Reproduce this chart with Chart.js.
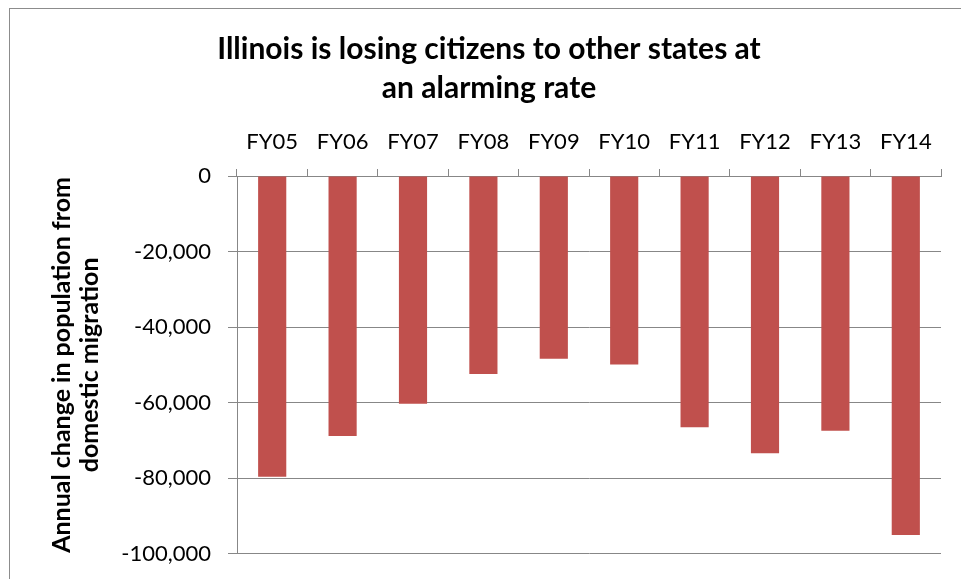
<!DOCTYPE html>
<html>
<head>
<meta charset="utf-8">
<script src="https://cdn.jsdelivr.net/npm/chart.js@4"></script>
<style>
  html, body { margin: 0; padding: 0; background: #fff; overflow: hidden; }
  #wrap { width: 980px; height: 584px; }
</style>
</head>
<body>
<div id="wrap"><canvas id="chart"></canvas></div>
<script>
// values
const years = ['FY05', 'FY06', 'FY07', 'FY08', 'FY09', 'FY10', 'FY11', 'FY12', 'FY13', 'FY14'];
const migration = [-79600, -68800, -60300, -52400, -48400, -49900, -66500, -73400, -67400, -95000];
const titleLines = ['Illinois is losing citizens to other states at', 'an alarming rate'];
const yTitleLines = ['Annual change in population from', 'domestic migration'];
const yMin = -100000;
const yMax = 0;
const yStep = 20000;

const gridGray = '#878787';
const barRed = '#C0504D';

// outer chart frame (only its left and top edges fall inside the window)
const chartFrame = {
  id: 'chartFrame',
  beforeDraw(chart) {
    const ctx = chart.ctx;
    ctx.save();
    ctx.fillStyle = '#fff';
    ctx.fillRect(0, 0, chart.width, chart.height);
    ctx.strokeStyle = '#8c8c8c';
    ctx.lineWidth = 1;
    ctx.strokeRect(9.5, 8.5, 959, 620);
    ctx.restore();
  },
};

new Chart(document.getElementById('chart'), {
  type: 'bar',
  data: {
    labels: years,
    datasets: [{
      data: migration,
      backgroundColor: barRed,
      borderWidth: 0,
      barPercentage: 0.4,
      categoryPercentage: 1.0,
    }],
  },
  options: {
    responsive: true,
    maintainAspectRatio: false,
    animation: false,
    layout: { padding: { left: 10, top: 8, right: 12, bottom: 16 } },
    plugins: {
      legend: { display: false },
      tooltip: { enabled: false },
      title: {
        display: true,
        text: titleLines,
        color: '#000',
        font: { family: 'Lato', size: 30, weight: 'bold', lineHeight: 1.3 },
        padding: { top: 22, bottom: 0 },
      },
    },
    scales: {
      x: {
        position: 'top',
        afterFit(scale) { scale.height = 68; },
        grid: { drawOnChartArea: false, drawTicks: true, tickLength: 7, color: gridGray, offset: true },
        border: { display: true, color: gridGray, width: 1 },
        ticks: { color: '#000', padding: 14, font: { family: 'Lato', size: 22 } },
      },
      y: {
        min: yMin,
        max: yMax,
        afterFit(scale) { scale.width = 227; },
        ticks: {
          stepSize: yStep,
          color: '#000',
          padding: 17,
          font: { family: 'Lato', size: 22 },
          callback: (v) => Number(v).toLocaleString('en-US'),
        },
        grid: { color: gridGray, tickLength: 9, drawTicks: true },
        border: { display: true, color: gridGray, width: 1 },
        title: {
          display: true,
          text: yTitleLines,
          color: '#000',
          font: { family: 'Lato', size: 25, weight: 'bold', lineHeight: 1.12 },
          padding: { top: 38, bottom: 0 },
        },
      },
      spacer: {
        position: 'right',
        display: true,
        afterFit(scale) { scale.width = 27; },
        grid: { display: false },
        border: { display: false },
        ticks: { display: false },
      },
    },
  },
  plugins: [chartFrame],
});
</script>
</body>
</html>
